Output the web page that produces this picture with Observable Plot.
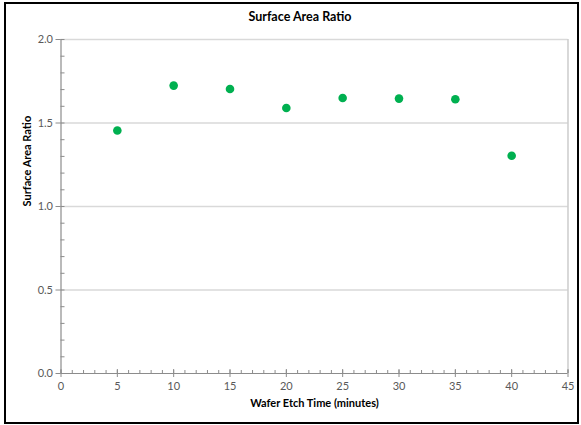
<!DOCTYPE html>
<html>
<head>
<meta charset="utf-8">
<script src="https://cdn.jsdelivr.net/npm/d3@7"></script>
<script src="https://cdn.jsdelivr.net/npm/@observablehq/plot@0.6"></script>
<style>
  html, body { margin: 0; padding: 0; background: #fff; }
  #wrap { position: relative; width: 581px; height: 425px; overflow: hidden; }
  #frame { position: absolute; left: 4px; top: 2px; width: 571px; height: 418px; border: 2.5px solid #000; pointer-events: none; }
  #title { position: absolute; left: 0; width: 600px; top: 9px; text-align: center; font: bold 12.5px Lato, "Open Sans", sans-serif; color: #000; }
</style>
</head>
<body>
<div id="wrap">
  <div id="title">Surface Area Ratio</div>
  <div id="frame"></div>
</div>
<script>
const etchTime = [5, 10, 15, 20, 25, 30, 35, 40];
const areaRatio = [1.455, 1.724, 1.704, 1.59, 1.65, 1.646, 1.642, 1.304];
const xTicks = [0, 5, 10, 15, 20, 25, 30, 35, 40, 45];
const yTicks = [0, 0.5, 1.0, 1.5, 2.0];
const xMinor = d3.range(0, 46, 1);
const yMinor = d3.range(0, 2.01, 0.1).map(v => +v.toFixed(1));

const data = etchTime.map((t, i) => ({t, r: areaRatio[i]}));
const axisColor = "#8c8c8c";
const tickFont = "Lato, 'Open Sans', sans-serif";

const chart = Plot.plot({
  width: 581,
  height: 425,
  marginLeft: 60.5,
  marginRight: 13.5,
  marginTop: 39,
  marginBottom: 52,
  style: {fontFamily: tickFont, fontSize: "11px", color: "#595959", background: "transparent"},
  x: {domain: [0, 45]},
  y: {domain: [0, 2]},
  marks: [
    Plot.ruleY(yTicks.filter(v => v > 0), {stroke: "#d9d9d9", strokeWidth: 1.3}),
    Plot.ruleX([45], {stroke: "#bfbfbf", strokeWidth: 1.2}),
    Plot.ruleY([0], {stroke: axisColor, strokeWidth: 1.2}),
    Plot.ruleX([0], {stroke: axisColor, strokeWidth: 1.2}),
    Plot.axisY(yTicks, {anchor: "left", tickSize: 5, tickPadding: 3, tickFormat: d3.format(".1f"), stroke: axisColor, label: null, fill: "#595959"}),
    Plot.axisY(yMinor, {anchor: "left", tickSize: -4, text: null, stroke: axisColor, label: null}),
    Plot.axisX(xTicks, {anchor: "bottom", tickSize: 4, tickPadding: 5, stroke: axisColor, label: null, fill: "#595959"}),
    Plot.axisX(xTicks, {anchor: "bottom", tickSize: -4, text: null, stroke: axisColor, label: null}),
    Plot.axisX(xMinor, {anchor: "bottom", tickSize: -3, text: null, stroke: axisColor, label: null}),
    Plot.text(["Wafer Etch Time (minutes)"], {frameAnchor: "bottom", dy: 33, fontWeight: "bold", fontSize: 11, fill: "#000"}),
    Plot.text(["Surface Area Ratio"], {frameAnchor: "left", dx: -34, rotate: -90, fontWeight: "bold", fontSize: 11, fill: "#000"}),
    Plot.dot(data, {x: "t", y: "r", r: 4.3, fill: "#00b050", stroke: null})
  ]
});
document.getElementById("wrap").prepend(chart);
chart.style.position = "absolute";
chart.style.left = "0";
chart.style.top = "0";
</script>
</body>
</html>
